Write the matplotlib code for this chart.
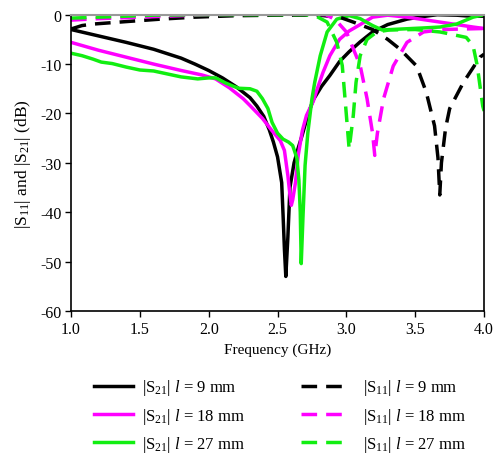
import matplotlib
matplotlib.use("Agg")
import matplotlib.pyplot as plt

plt.rcParams['font.family'] = ['Liberation Serif', 'DejaVu Serif']
plt.rcParams['mathtext.fontset'] = 'custom'
plt.rcParams['mathtext.rm'] = 'Liberation Serif'
plt.rcParams['mathtext.it'] = 'Liberation Serif:italic'

# ---- data ----
f_s21_9 = [1.0, 1.2, 1.4, 1.6, 1.8, 1.9, 2.0, 2.1, 2.2, 2.3, 2.35, 2.4, 2.44, 2.47, 2.5, 2.53,
           2.54, 2.55, 2.56, 2.575, 2.59, 2.62, 2.65, 2.68, 2.72, 2.76, 2.82, 2.88, 2.95, 3.02,
           3.1, 3.19, 3.3, 3.44, 3.55, 3.66, 3.8, 3.9, 4.0]
s21_9 = [-3.0, -4.3, -5.6, -7.0, -8.8, -10.0, -11.3, -12.8, -14.6, -16.8, -18.5, -20.6, -23.3,
         -25.8, -28.8, -34.0, -40.5, -47.5, -53.0, -45.0, -35.0, -30.0, -27.0, -24.3, -20.3,
         -17.2, -14.5, -12.3, -9.5, -7.5, -5.5, -3.5, -2.0, -0.9, -0.4, 0.0, -0.1, -0.3, -0.3]

f_s21_18 = [1.0, 1.2, 1.4, 1.6, 1.8, 1.95, 2.05, 2.15, 2.25, 2.3, 2.39, 2.46, 2.52, 2.55, 2.575,
            2.59, 2.6, 2.61, 2.63, 2.65, 2.68, 2.71, 2.76, 2.78, 2.83, 2.88, 2.95, 3.02, 3.1,
            3.19, 3.3, 3.44, 3.68, 3.92, 4.0]
s21_18 = [-5.6, -7.2, -8.6, -10.0, -11.3, -12.2, -13.0, -14.8, -17.0, -18.4, -21.0, -23.5,
          -25.5, -27.5, -32.6, -36.5, -38.6, -37.5, -34.0, -28.5, -23.5, -20.4, -17.5, -15.7,
          -11.7, -8.3, -5.0, -3.3, -2.0, -0.5, -0.1, -0.5, -1.5, -2.5, -2.8]

f_s21_27 = [1.0, 1.08, 1.16, 1.22, 1.3, 1.4, 1.5, 1.6, 1.7, 1.8, 1.92, 2.0, 2.05, 2.12, 2.18,
            2.22, 2.3, 2.35, 2.39, 2.43, 2.46, 2.5, 2.54, 2.58, 2.61, 2.64, 2.655, 2.665, 2.672,
            2.685, 2.70, 2.72, 2.75, 2.77, 2.81, 2.86, 2.93, 3.02, 3.1, 3.19, 3.26, 3.4, 3.55,
            3.68, 3.8, 3.92, 4.0]
s21_27 = [-7.8, -8.3, -9.0, -9.6, -9.9, -10.6, -11.2, -11.4, -12.0, -12.6, -13.0, -12.8, -12.8,
          -13.8, -14.5, -14.9, -15.0, -15.5, -17.0, -19.0, -21.8, -24.0, -25.2, -25.8, -26.5,
          -29.0, -33.5, -40.0, -50.4, -40.7, -30.5, -23.9, -17.0, -13.7, -8.3, -3.5, -0.9,
          -0.2, -0.8, -2.2, -3.1, -2.9, -2.7, -2.5, -1.9, -0.5, 0.0]

f_s11_9 = [1.0, 1.08, 1.16, 1.4, 1.65, 1.9, 2.2, 2.5, 2.8, 2.95, 3.05, 3.19, 3.3, 3.39, 3.51,
           3.58, 3.64, 3.665, 3.678, 3.69, 3.72, 3.75, 3.85, 3.97, 4.0]
s11_9 = [-2.9, -2.2, -1.9, -1.4, -0.9, -0.5, -0.2, -0.1, -0.1, -0.5, -1.5, -3.0, -5.0, -7.0,
         -10.4, -15.7, -22.5, -29.0, -36.5, -30.0, -23.0, -19.0, -13.7, -8.6, -8.0]

f_s11_18 = [1.0, 1.2, 1.5, 1.8, 2.0, 2.3, 2.6, 2.85, 2.92, 3.0, 3.1, 3.15, 3.19, 3.206, 3.225,
            3.27, 3.34, 3.44, 3.56, 3.7, 3.85, 4.0]
s11_18 = [-1.1, -0.8, -0.5, -0.2, 0.0, 0.1, 0.2, 0.0, -1.0, -3.5, -10.3, -17.0, -24.0, -28.5,
          -24.0, -17.0, -10.4, -5.6, -3.5, -3.0, -2.9, -2.8]

f_s11_27 = [1.0, 1.3, 1.6, 2.0, 2.4, 2.7, 2.78, 2.86, 2.93, 2.97, 2.99, 3.02, 3.05, 3.07, 3.10,
            3.15, 3.22, 3.31, 3.5, 3.68, 3.75, 3.87, 3.92, 3.95, 3.99, 4.0]
s11_27 = [-0.7, -0.4, -0.1, 0.0, 0.0, 0.0, -0.3, -1.5, -5.6, -10.3, -17.0, -27.2, -20.4, -13.7,
          -8.3, -5.0, -3.5, -3.1, -3.0, -3.5, -3.9, -4.6, -6.3, -10.3, -18.5, -19.5]

labels_s21 = [r'|S$_{21}$| $l$ = 9 mm', r'|S$_{21}$| $l$ = 18 mm', r'|S$_{21}$| $l$ = 27 mm']
labels_s11 = [r'|S$_{11}$| $l$ = 9 mm', r'|S$_{11}$| $l$ = 18 mm', r'|S$_{11}$| $l$ = 27 mm']
colors = ['#000000', '#ff00ff', '#11ee11']

xticks = [1.0, 1.5, 2.0, 2.5, 3.0, 3.5, 4.0]
yticks = [0, -10, -20, -30, -40, -50, -60]

# ---- plot ----
fig = plt.figure(figsize=(4.95, 4.56), dpi=100)
ax = fig.add_axes([0.1434, 0.3158, 0.978 - 0.1434, 0.9656 - 0.3158])

lw = 2.5
dash = (4.5, 2.6)
s21 = [(f_s21_9, s21_9), (f_s21_18, s21_18), (f_s21_27, s21_27)]
s11 = [(f_s11_9, s11_9), (f_s11_18, s11_18), (f_s11_27, s11_27)]
h21, h11 = [], []
for (fx, fy), c, lab in zip(s21, colors, labels_s21):
    h, = ax.plot(fx, fy, color=c, lw=lw, label=lab)
    h21.append(h)
for (fx, fy), c, lab in zip(s11, colors, labels_s11):
    h, = ax.plot(fx, fy, color=c, lw=lw, dashes=dash, label=lab)
    h11.append(h)

ax.set_xlim(1.0, 4.0)
ax.set_ylim(-60, 0)
ax.set_xticks(xticks)
ax.set_xticklabels([f'{v:.1f}' for v in xticks])
ax.set_yticks(yticks)
ax.set_yticklabels([str(v) for v in yticks])
ax.tick_params(direction='out', length=4, width=1, labelsize=11.5, pad=3)
for s in ['left', 'bottom', 'right']:
    ax.spines[s].set_linewidth(1.2)
ax.spines['top'].set_color('#999999')
ax.spines['top'].set_linewidth(1.5)

ax.set_xlabel('Frequency (GHz)', fontsize=11, labelpad=4)
ax.set_ylabel(r'|S$_{11}$| and |S$_{21}$| (dB)', fontsize=12.5, labelpad=5)

leg1 = fig.legend(h21, labels_s21, loc='upper left', bbox_to_anchor=(0.19, 0.170),
                  frameon=False, fontsize=12, handlelength=2.35, handletextpad=0.5,
                  labelspacing=0.5, borderpad=0, borderaxespad=0)
leg2 = fig.legend(h11, labels_s11, loc='upper left', bbox_to_anchor=(0.608, 0.170),
                  frameon=False, fontsize=12, handlelength=2.5, handletextpad=1.2,
                  labelspacing=0.5, borderpad=0, borderaxespad=0)

fig.savefig('out.png', dpi=100)
